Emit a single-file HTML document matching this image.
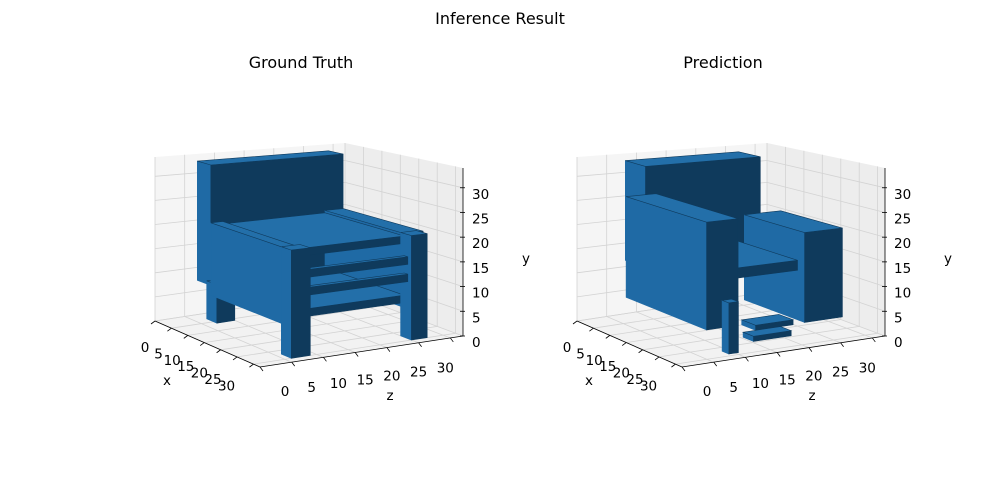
<!DOCTYPE html>
<html><head><meta charset="utf-8"><title>Inference Result</title>
<style>
html,body{margin:0;padding:0;background:#fff;}
svg{display:block;font-family:"DejaVu Sans","Liberation Sans",sans-serif;}
</style></head>
<body>
<svg id="fig" width="1000" height="500" viewBox="0 0 1000 500" xmlns="http://www.w3.org/2000/svg">
<rect width="1000" height="500" fill="#fff"/>
<text x="500" y="24" font-size="16" text-anchor="middle">Inference Result</text>
<text x="301" y="68" font-size="16" text-anchor="middle">Ground Truth</text>
<text x="723" y="68" font-size="16" text-anchor="middle">Prediction</text>
<g id="gt"></g>
<g id="pr"></g>
</svg>
<script>
const xTicks=[0,5,10,15,20,25,30];
const zTicks=[0,5,10,15,20,25,30];
const yTicks=[0,5,10,15,20,25,30];
// voxel blocks: [x0,x1,z0,z1,y0,y1]
const gtBoxes=[
 [2,6,6,28,8,33],
 [3,6,7,10,0,8],[3,6,24,27,0,8],
 [6,28,25,28,6,21],
 [6,28,8,25,19,20.5],
 [8,28,9,25,7,8.5],
 [28,29,9,25,15,16.5],[28,29,9,25,11.5,13],
 [6,28,6,8,6,21],
 [27,30,25,27.5,0,21],
 [27,30,6,9,0,21]
];
const prBoxes=[
 [2,8,7,26,12,33],
 [12,29,21,27,4,22],
 [8,27,11,21,14,16],
 [20,24,16,22,2,3],[24,27,14,20,1,2],
 [4,28,6,11,5,26],
 [27,29,9,10.5,0,10]
];
const SVGNS="http://www.w3.org/2000/svg";
const L=[155,321],F=[260,367],R=[463,336],B=[345,292];
const HL=164,HF=178,HR=168,HB=149,YMAX=34,N=32;
function P(x,z,y,off){
 const u=x/N,v=z/N;
 const a=(1-u)*(1-v),b=u*(1-v),c=u*v,d=(1-u)*v;
 const px=L[0]*a+F[0]*b+R[0]*c+B[0]*d;
 const py=L[1]*a+F[1]*b+R[1]*c+B[1]*d;
 const h=HL*a+HF*b+HR*c+HB*d;
 return [px+off,py-y/YMAX*h];
}
function el(tag,attrs,parent){
 const e=document.createElementNS(SVGNS,tag);
 for(const k in attrs)e.setAttribute(k,attrs[k]);
 parent.appendChild(e);return e;
}
function pts(a){return a.map(p=>p[0].toFixed(1)+","+p[1].toFixed(1)).join(" ");}
function drawAxes(g,off,boxes){
 const floor=el("polygon",{points:pts([P(0,0,0,off),P(N,0,0,off),P(N,N,0,off),P(0,N,0,off)]),fill:"#f2f2f2"},g);
 
 
 const lw=el("polygon",{points:pts([P(0,0,0,off),P(0,N,0,off),P(0,N,YMAX,off),P(0,0,YMAX,off)]),fill:"#f5f5f5"},g);
 
 
 const rw=el("polygon",{points:pts([P(0,N,0,off),P(N,N,0,off),P(N,N,YMAX,off),P(0,N,YMAX,off)]),fill:"#ededed"},g);
 
 
 const gs={stroke:"#d3d3d3","stroke-width":0.8,fill:"none"};
 const grid=el("g",{},g);
 
 
 xTicks.forEach(t=>{
  const a=P(t,0,0,off),b=P(t,N,0,off),c=P(t,N,YMAX,off);
  el("polyline",Object.assign({points:pts([a,b,c])},gs),grid);
 });
 zTicks.forEach(t=>{
  const a=P(N,t,0,off),b=P(0,t,0,off),c=P(0,t,YMAX,off);
  el("polyline",Object.assign({points:pts([a,b,c])},gs),grid);
 });
 yTicks.forEach(t=>{
  const a=P(0,0,t,off),b=P(0,N,t,off),c=P(N,N,t,off);
  el("polyline",Object.assign({points:pts([a,b,c])},gs),grid);
 });
 const ax=el("line",{x1:P(0,0,0,off)[0],y1:P(0,0,0,off)[1],x2:P(N,0,0,off)[0],y2:P(N,0,0,off)[1],stroke:"#000","stroke-width":0.8},g);
 
 
 const az=el("line",{x1:P(N,0,0,off)[0],y1:P(N,0,0,off)[1],x2:P(N,N,0,off)[0],y2:P(N,N,0,off)[1],stroke:"#000","stroke-width":0.8},g);
 
 
 const ay=el("line",{x1:P(N,N,0,off)[0],y1:P(N,N,0,off)[1],x2:P(N,N,YMAX,off)[0],y2:P(N,N,YMAX,off)[1],stroke:"#000","stroke-width":0.8},g);
 
 
 xTicks.forEach(t=>{
  const p=P(t,0,0,off),u=t/N;
  el("line",{x1:p[0],y1:p[1],x2:p[0]-4,y2:p[1]+3,stroke:"#000","stroke-width":0.8},g);
  const tx=el("text",{x:p[0]-10-18*u,y:p[1]+31-5*u,"font-size":13.5,"text-anchor":"middle"},g);
  tx.textContent=t;
  
  
 });
 zTicks.forEach(t=>{
  const p=P(N,t,0,off),v=t/N;
  el("line",{x1:p[0],y1:p[1],x2:p[0]+3,y2:p[1]+4,stroke:"#000","stroke-width":0.8},g);
  const tx=el("text",{x:p[0]+25-32*v,y:p[1]+29+6*v,"font-size":13.5,"text-anchor":"middle"},g);
  tx.textContent=t;
  
  
 });
 yTicks.forEach(t=>{
  const p=P(N,N,t,off);
  el("line",{x1:p[0]-3,y1:p[1],x2:p[0]+2,y2:p[1],stroke:"#000","stroke-width":0.8},g);
  const tx=el("text",{x:p[0]+9,y:p[1]+11,"font-size":13.5,"text-anchor":"start"},g);
  tx.textContent=t;
  
  
 });
 const lx=el("text",{x:167+off,y:385,"font-size":13.5,"text-anchor":"middle"},g);lx.textContent="x";
 
 
 const lz=el("text",{x:390+off,y:400,"font-size":13.5,"text-anchor":"middle"},g);lz.textContent="z";
 
 
 const ly=el("text",{x:526+off,y:263,"font-size":13.5,"text-anchor":"middle"},g);ly.textContent="y";
 
 
 const vg=el("g",{},g);
 
 
 const sorted=boxes.slice().sort((a,b)=>((a[0]+a[1])/2-(a[2]+a[3])/2)-((b[0]+b[1])/2-(b[2]+b[3])/2));
 sorted.forEach(bx=>{
  const [x0,x1,z0,z1,y0,y1]=bx;
  const bg=el("g",{},vg);
  
  
  const side=[P(x0,z0,y0,off),P(x1,z0,y0,off),P(x1,z0,y1,off),P(x0,z0,y1,off)];
  const front=[P(x1,z0,y0,off),P(x1,z1,y0,off),P(x1,z1,y1,off),P(x1,z0,y1,off)];
  const top=[P(x0,z0,y1,off),P(x1,z0,y1,off),P(x1,z1,y1,off),P(x0,z1,y1,off)];
  el("polygon",{points:pts(side),fill:"#1f6aa5",stroke:"#1f6aa5","stroke-width":0.6},bg);
  el("polygon",{points:pts(front),fill:"#0f3a5c",stroke:"#0f3a5c","stroke-width":0.6},bg);
  el("polygon",{points:pts(top),fill:"#236fa9",stroke:"#0f3a5c","stroke-width":0.6},bg);
 });
}
drawAxes(document.getElementById("gt"),0,gtBoxes);
drawAxes(document.getElementById("pr"),422,prBoxes);
</script>
</body></html>
